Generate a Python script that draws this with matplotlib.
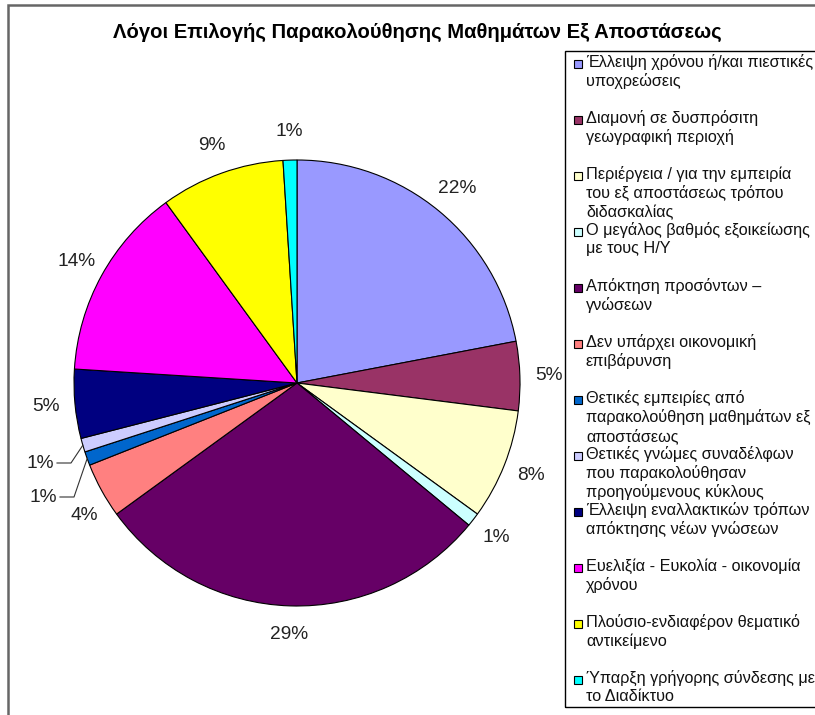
import numpy as np
import matplotlib
matplotlib.use("Agg")
from matplotlib import pyplot as plt
from matplotlib.patches import Rectangle

plt.rcParams['font.family'] = ['Liberation Sans', 'DejaVu Sans']

TITLE = "Λόγοι Επιλογής Παρακολούθησης Μαθημάτων Εξ Αποστάσεως"

# labels of the legend (line breaks as in the original)
labels = [
    "Έλλειψη χρόνου ή/και πιεστικές\nυποχρεώσεις",
    "Διαμονή σε δυσπρόσιτη\nγεωγραφική περιοχή",
    "Περιέργεια / για την εμπειρία\nτου εξ αποστάσεως τρόπου\nδιδασκαλίας",
    "Ο μεγάλος βαθμός εξοικείωσης\nμε τους Η/Υ",
    "Απόκτηση προσόντων –\nγνώσεων",
    "Δεν υπάρχει οικονομική\nεπιβάρυνση",
    "Θετικές εμπειρίες από\nπαρακολούθηση μαθημάτων εξ\nαποστάσεως",
    "Θετικές γνώμες συναδέλφων\nπου παρακολούθησαν\nπροηγούμενους κύκλους",
    "Έλλειψη εναλλακτικών τρόπων\nαπόκτησης νέων γνώσεων",
    "Ευελιξία - Ευκολία - οικονομία\nχρόνου",
    "Πλούσιο-ενδιαφέρον θεματικό\nαντικείμενο",
    "Ύπαρξη γρήγορης σύνδεσης με\nτο Διαδίκτυο",
]
percents = [22, 5, 8, 1, 29, 4, 1, 1, 5, 14, 9, 1]
colors = ["#9999FF", "#993366", "#FFFFCC", "#CCFFFF", "#660066", "#FF8080",
          "#0066CC", "#CCCCFF", "#000080", "#FF00FF", "#FFFF00", "#00FFFF"]

W, H = 815, 715
fig = plt.figure(figsize=(W / 100, H / 100), dpi=100)
ax = fig.add_axes([0, 0, 1, 1])

# pixel helper (y from top)
def py(y):
    return H - y

cx, cy, r = 297, py(383), 223

wedges, texts, autotexts = ax.pie(
    percents, colors=colors, startangle=90, counterclock=False,
    center=(cx, cy), radius=r, autopct='%1.0f%%', pctdistance=1.13,
    wedgeprops=dict(edgecolor='black', linewidth=0.8),
    textprops=dict(fontsize=13.8, color='#222222'))

ax.set_xlim(0, W)
ax.set_ylim(0, H)
ax.set_aspect('equal')
ax.axis('off')

# the 4% label sits a bit lower, as in the original
autotexts[5].set_position((84, py(516)))

# the two small slices at the left get leader lines
for idx, (lx, ly) in [(7, (40, 463)), (6, (43, 497))]:
    t = autotexts[idx]
    t.set_position((lx, py(ly)))
    w = wedges[idx]
    mid = np.deg2rad((w.theta1 + w.theta2) / 2)
    ex, ey = cx + r * np.cos(mid), cy + r * np.sin(mid)
    ax.plot([lx + 17, lx + 31, ex], [py(ly), py(ly), ey], color='#333333', lw=0.8)

# title
ax.text(417, py(32), TITLE, ha='center', va='center', fontsize=14.6,
        fontweight='bold', color='black')

# outer chart border
ax.add_patch(Rectangle((8, -10), 900, py(5) + 10, fill=False,
                       edgecolor='#666666', lw=1.8, clip_on=False))

# legend box
ax.add_patch(Rectangle((565, py(707)), 400, 707 - 51, fill=False,
                       edgecolor='black', lw=1, clip_on=False))
step = 56.0
for i, (lab, col) in enumerate(zip(labels, colors)):
    y0 = 64 + i * step
    ax.add_patch(Rectangle((574, py(y0) - 4), 8, 8, facecolor=col,
                           edgecolor='black', lw=0.8))
    ax.text(586, py(y0 - 10), lab, ha='left', va='top', fontsize=11.7,
            color='#111111', linespacing=1.25)

fig.savefig('out.png', dpi=100)
